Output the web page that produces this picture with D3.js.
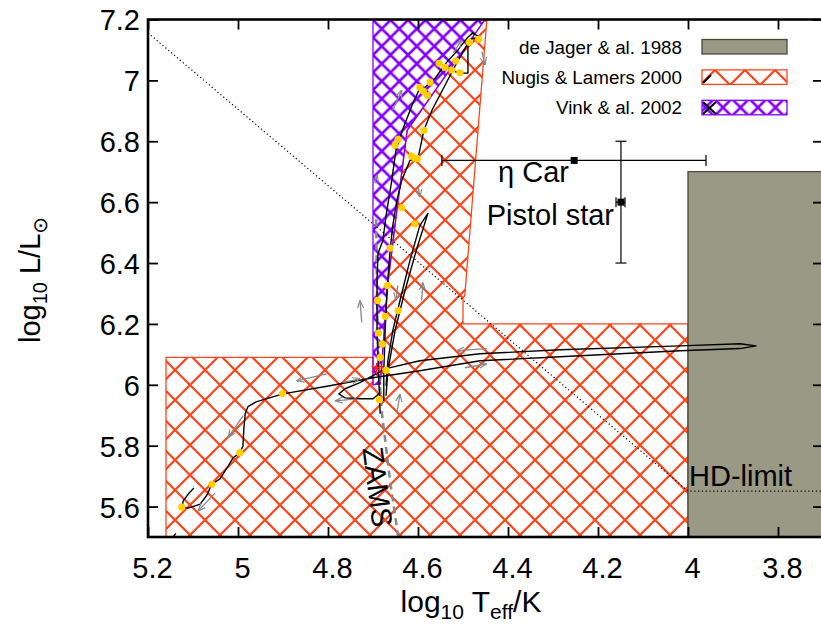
<!DOCTYPE html>
<html>
<head>
<meta charset="utf-8">
<script src="https://cdn.jsdelivr.net/npm/d3@7"></script>
<style>
  body { margin: 0; background: #fff; }
  svg text { font-family: "Liberation Sans", Arial, Helvetica, sans-serif; fill: #000; }
</style>
</head>
<body>
<svg id="hrd" width="821" height="631"></svg>
<script>
// axes
const tempTicks = [5.2, 5.0, 4.8, 4.6, 4.4, 4.2, 4.0, 3.8];
const lumTicks = [5.6, 5.8, 6.0, 6.2, 6.4, 6.6, 6.8, 7.0, 7.2];

// mass-loss prescription domains, [log Teff, log L]
const deJager = [[4.0, 5.5], [4.0, 6.7], [3.6, 6.7], [3.6, 5.5]];
const nugisLamers = [[5.16, 5.5], [5.16, 6.09], [4.70, 6.09], [4.70, 6.0], [4.684, 6.003],
  [4.667, 6.333], [4.647, 6.573], [4.624, 6.836], [4.451, 7.2], [4.447, 7.2],
  [4.496, 6.293], [4.5, 6.285], [4.5, 6.2], [4.0, 6.2], [4.0, 5.5]];
const vink = [[4.70, 6.0], [4.70, 7.2], [4.451, 7.2], [4.624, 6.836], [4.647, 6.573],
  [4.667, 6.333], [4.684, 6.003]];

const hdLimit = [[5.2, 7.156], [4.0, 5.651], [3.6, 5.651]];
const zams = [[4.644, 5.5], [4.662, 5.684], [4.680, 5.905], [4.687, 6.046], [4.691, 6.277], [4.693, 6.556]];

// evolutionary tracks
const track1 = [[5.098, 5.661], [5.109, 5.644], [5.122, 5.618], [5.124, 5.598], [5.111, 5.595],
  [5.084, 5.608], [5.069, 5.638], [5.058, 5.674], [5.040, 5.691], [5.022, 5.733], [5.011, 5.760],
  [4.996, 5.776], [4.989, 5.799], [4.987, 5.855], [4.984, 5.905], [4.978, 5.928], [4.960, 5.944],
  [4.900, 5.970], [4.796, 5.997], [4.700, 6.023], [4.596, 6.046], [4.462, 6.079], [4.284, 6.092],
  [4.018, 6.112], [3.884, 6.119], [3.849, 6.128], [3.884, 6.135], [4.018, 6.128], [4.284, 6.115],
  [4.462, 6.102], [4.596, 6.079], [4.671, 6.053], [4.729, 6.007], [4.762, 5.987], [4.776, 5.970],
  [4.762, 5.957], [4.729, 5.954], [4.700, 5.954], [4.684, 5.974]];
const track2 = [[4.684, 5.905], [4.687, 6.013], [4.691, 6.178], [4.691, 6.342], [4.689, 6.431],
  [4.678, 6.474], [4.671, 6.556], [4.660, 6.655], [4.649, 6.770], [4.633, 6.843], [4.613, 6.919],
  [4.596, 6.974], [4.578, 6.958], [4.587, 6.974], [4.562, 7.007], [4.536, 7.060], [4.511, 7.100],
  [4.491, 7.139], [4.478, 7.156], [4.464, 7.142], [4.482, 7.136], [4.489, 7.116], [4.489, 7.024],
  [4.507, 7.024], [4.527, 7.034], [4.553, 7.057]];
const track3 = [[4.676, 5.947], [4.676, 6.046], [4.673, 6.178], [4.669, 6.309], [4.662, 6.441],
  [4.656, 6.523], [4.647, 6.606], [4.636, 6.672], [4.618, 6.737], [4.600, 6.744], [4.587, 6.836],
  [4.569, 6.902], [4.540, 6.984], [4.513, 7.060], [4.484, 7.133]];
const track4 = [[4.671, 5.964], [4.667, 6.046], [4.651, 6.178], [4.629, 6.309], [4.604, 6.441],
  [4.578, 6.563], [4.596, 6.523], [4.618, 6.408], [4.640, 6.277], [4.656, 6.178], [4.667, 6.079],
  [4.671, 5.997]];
const track5 = [[5.162, 5.469], [5.138, 5.512]];

const modelPoints = [[5.125, 5.598], [5.058, 5.673], [4.996, 5.777], [4.901, 5.971], [4.686, 5.951],
  [4.636, 6.582], [4.607, 6.529], [4.662, 6.449], [4.668, 6.326], [4.690, 6.277], [4.673, 6.225],
  [4.644, 6.244], [4.688, 6.170], [4.679, 6.134], [4.684, 6.090], [4.671, 6.048], [4.486, 7.125],
  [4.465, 7.135], [4.553, 7.056], [4.540, 7.043], [4.516, 7.064], [4.525, 7.034], [4.507, 7.025],
  [4.573, 6.994], [4.596, 6.977], [4.588, 6.965], [4.579, 6.951], [4.587, 6.836], [4.644, 6.806],
  [4.651, 6.787], [4.614, 6.751], [4.607, 6.745], [4.601, 6.743]];

// direction of evolution, [from, to]
const arrows = [
  [[4.989, 5.898], [5.022, 5.826]], [[5.051, 5.644], [5.089, 5.585]], [[4.803, 6.036], [4.870, 6.013]],
  [[4.767, 6.007], [4.729, 6.020]], [[4.736, 5.954], [4.784, 5.947]], [[4.647, 5.905], [4.640, 5.970]],
  [[4.725, 6.205], [4.729, 6.277]], [[4.645, 6.326], [4.649, 6.277]], [[4.592, 6.277], [4.589, 6.336]],
  [[4.447, 6.119], [4.514, 6.112]], [[4.496, 6.056], [4.447, 6.069]], [[4.656, 6.902], [4.636, 6.968]],
  [[4.522, 7.090], [4.503, 7.133]], [[4.458, 7.094], [4.451, 7.050]], [[4.600, 6.655], [4.596, 6.616]],
  [[4.696, 6.662], [4.690, 6.690]]];
const zamsStar = [4.692, 6.053];

const etaCar = { t: 4.253, l: 6.737, tLo: 4.547, tHi: 3.96 };
const pistolStar = { t: 4.149, l: 6.6, tLo: 4.16, tHi: 4.14, lLo: 6.4, lHi: 6.8 };

const legendLabels = ["de Jager & al. 1988", "Nugis & Lamers 2000", "Vink & al. 2002"];

const NL_COLOR = "#ff4418", VINK_COLOR = "#8000ff", DJ_FILL = "#999986", DJ_STROKE = "#4a4a3a";

const svg = d3.select("#hrd");
const x = d3.scaleLinear().domain([5.2, 3.7]).range([148, 823]);
const y = d3.scaleLinear().domain([5.5, 7.2]).range([537, 19.5]);
const line = d3.line().x(d => x(d[0])).y(d => y(d[1]));

const defs = svg.append("defs");
defs.append("clipPath").attr("id", "plotClip")
  .append("rect").attr("x", 148).attr("y", 19.5).attr("width", 675).attr("height", 517.5);

function hatch(id, color, p, w, ox, oy) {
  const pat = defs.append("pattern").attr("id", id).attr("patternUnits", "userSpaceOnUse")
    .attr("x", ox).attr("y", oy).attr("width", p).attr("height", p);
  const e = 3;
  pat.append("path")
    .attr("d", `M${-e},${-e}L${p + e},${p + e}M${p + e},${-e}L${-e},${p + e}` +
      `M${p - e},${-e}L${p + e},${e}M${-e},${p - e}L${e},${p + e}` +
      `M${-e},${e}L${e},${-e}M${p - e},${p + e}L${p + e},${p - e}`)
    .attr("stroke", color).attr("stroke-width", w).attr("fill", "none");
}
hatch("hatchNL", NL_COLOR, 30, 2.2, 10, 25);
hatch("hatchVink", VINK_COLOR, 17.5, 2.6, 373, 20);

defs.append("marker").attr("id", "arr").attr("viewBox", "0 0 10 10")
  .attr("refX", 10).attr("refY", 5).attr("markerWidth", 6).attr("markerHeight", 6)
  .attr("orient", "auto")
  .append("path").attr("d", "M0,1L10,5L0,9").attr("fill", "none")
  .attr("stroke", "#888").attr("stroke-width", 1.5);

const plot = svg.append("g").attr("clip-path", "url(#plotClip)");

// regions
plot.append("path").attr("d", line(nugisLamers) + "Z")
  .attr("fill", "url(#hatchNL)").attr("stroke", NL_COLOR).attr("stroke-width", 1.3);
plot.append("path").attr("d", line(vink) + "Z")
  .attr("fill", "url(#hatchVink)").attr("stroke", VINK_COLOR).attr("stroke-width", 1.3);
plot.append("path").attr("d", line(deJager) + "Z")
  .attr("fill", DJ_FILL).attr("stroke", DJ_STROKE).attr("stroke-width", 1.3);

// HD limit
plot.append("path").attr("d", line(hdLimit)).attr("fill", "none")
  .attr("stroke", "#000").attr("stroke-width", 1.2).attr("stroke-dasharray", "1.2,2.6");

// ZAMS
plot.append("path").attr("d", line(zams)).attr("fill", "none")
  .attr("stroke", "#888").attr("stroke-width", 2.5).attr("stroke-dasharray", "7,5");

// tracks
[track1, track2, track3, track4, track5].forEach(t => {
  plot.append("path").attr("d", line(t)).attr("fill", "none")
    .attr("stroke", "#000").attr("stroke-width", 1.4).attr("stroke-linejoin", "round");
});

plot.selectAll(".arrow").data(arrows).enter().append("line")
  .attr("x1", d => x(d[0][0])).attr("y1", d => y(d[0][1]))
  .attr("x2", d => x(d[1][0])).attr("y2", d => y(d[1][1]))
  .attr("stroke", "#888").attr("stroke-width", 1.3).attr("marker-end", "url(#arr)");

plot.selectAll(".model").data(modelPoints).enter().append("circle")
  .attr("cx", d => x(d[0])).attr("cy", d => y(d[1])).attr("r", 3.6).attr("fill", "#ffd000");

plot.append("path").attr("d", d3.symbol(d3.symbolAsterisk, 90)())
  .attr("transform", `translate(${x(zamsStar[0])},${y(zamsStar[1])})`)
  .attr("fill", "none").attr("stroke", "#ff1a1a").attr("stroke-width", 1.2);

// observed stars
const obs = svg.append("g").attr("stroke", "#000").attr("stroke-width", 1.2);
obs.append("line").attr("x1", x(etaCar.tLo)).attr("x2", x(etaCar.tHi))
  .attr("y1", y(etaCar.l)).attr("y2", y(etaCar.l));
[etaCar.tLo, etaCar.tHi].forEach(t => obs.append("line").attr("x1", x(t)).attr("x2", x(t))
  .attr("y1", y(etaCar.l) - 5.5).attr("y2", y(etaCar.l) + 5.5));
obs.append("line").attr("x1", x(pistolStar.t)).attr("x2", x(pistolStar.t))
  .attr("y1", y(pistolStar.lLo)).attr("y2", y(pistolStar.lHi));
[pistolStar.lLo, pistolStar.lHi].forEach(l => obs.append("line")
  .attr("x1", x(pistolStar.t) - 5.5).attr("x2", x(pistolStar.t) + 5.5)
  .attr("y1", y(l)).attr("y2", y(l)));
obs.append("line").attr("x1", x(pistolStar.tLo)).attr("x2", x(pistolStar.tHi))
  .attr("y1", y(pistolStar.l)).attr("y2", y(pistolStar.l));
[pistolStar.tLo, pistolStar.tHi].forEach(t => obs.append("line").attr("x1", x(t)).attr("x2", x(t))
  .attr("y1", y(pistolStar.l) - 5).attr("y2", y(pistolStar.l) + 5));
[etaCar, pistolStar].forEach(s => obs.append("rect")
  .attr("x", x(s.t) - 3.5).attr("y", y(s.l) - 3.5).attr("width", 7).attr("height", 7)
  .attr("fill", "#000").attr("stroke", "none"));

// annotations
svg.append("text").attr("x", 569).attr("y", 182).attr("text-anchor", "end")
  .style("font-size", "29px").text("η Car");
svg.append("text").attr("x", 614).attr("y", 225).attr("text-anchor", "end")
  .style("font-size", "29px").text("Pistol star");
svg.append("text").attr("x", 689).attr("y", 486)
  .style("font-size", "29px").text("HD-limit");
svg.append("text").attr("transform", "translate(378,487) rotate(82.6)")
  .attr("text-anchor", "middle").attr("dy", "0.36em")
  .style("font-size", "29px").text("ZAMS");

// legend
const legend = svg.append("g");
legendLabels.forEach((lab, i) => {
  const by = 53.5 + i * 30.4;
  legend.append("text").attr("x", 682).attr("y", by).attr("text-anchor", "end")
    .style("font-size", "18.8px").text(lab);
  const fill = [DJ_FILL, "url(#hatchNL)", "url(#hatchVink)"][i];
  const stroke = [DJ_STROKE, NL_COLOR, VINK_COLOR][i];
  legend.append("rect").attr("x", 702).attr("y", by - 14).attr("width", 85).attr("height", 14.5)
    .attr("fill", fill).attr("stroke", stroke).attr("stroke-width", 1.3);
});
legend.append("path").attr("d", "M703,83L711,75").attr("stroke", "#000").attr("stroke-width", 2);
legend.append("path").attr("d", "M703,102L716,114M703,114L716,102").attr("stroke", "#000").attr("stroke-width", 2);

// axes
const fmt = d => d3.format(".1f")(d).replace(/\.0$/, "");
const gx = svg.append("g").attr("transform", "translate(0,537)")
  .call(d3.axisBottom(x).tickValues(tempTicks).tickSizeInner(-10).tickSizeOuter(0).tickFormat(fmt));
gx.selectAll("text").attr("y", 41).attr("dy", null).attr("x", 4);
const gy = svg.append("g").attr("transform", "translate(148,0)")
  .call(d3.axisLeft(y).tickValues(lumTicks).tickSizeInner(-10).tickSizeOuter(0).tickPadding(8).tickFormat(fmt));
gy.selectAll("text").attr("dy", "0.36em");
svg.append("g").attr("transform", "translate(0,19.5)")
  .call(d3.axisTop(x).tickValues(tempTicks).tickSizeInner(-10).tickSizeOuter(0).tickFormat(""));
svg.append("g").attr("transform", "translate(823,0)")
  .call(d3.axisRight(y).tickValues(lumTicks).tickSizeInner(-10).tickSizeOuter(0).tickFormat(""));
svg.selectAll(".domain").remove();
svg.selectAll(".tick line").attr("stroke", "#000").attr("stroke-width", 1.8);
svg.selectAll(".tick text").style("font-size", "29px")
  .style("font-family", "'Liberation Sans', Arial, sans-serif");

svg.append("rect").attr("x", 148).attr("y", 19.5).attr("width", 675).attr("height", 517.5)
  .attr("fill", "none").attr("stroke", "#000").attr("stroke-width", 2.6);

// axis titles
const xt = svg.append("text").attr("x", 471).attr("y", 612).attr("text-anchor", "middle")
  .style("font-size", "30px");
xt.append("tspan").text("log");
xt.append("tspan").attr("dy", 7).style("font-size", "21px").text("10");
xt.append("tspan").attr("dy", -7).text(" T");
xt.append("tspan").attr("dy", 7).style("font-size", "21px").text("eff");
xt.append("tspan").attr("dy", -7).text("/K");

const yt = svg.append("text").attr("transform", "translate(40,280) rotate(-90)")
  .attr("text-anchor", "middle").style("font-size", "29px");
yt.append("tspan").text("log");
yt.append("tspan").attr("dy", 7).style("font-size", "20px").text("10");
yt.append("tspan").attr("dy", -7).text(" L/L");
yt.append("tspan").attr("dy", 7).style("font-size", "20px")
  .style("font-family", "'DejaVu Sans', sans-serif").text("⊙");
</script>
</body>
</html>
